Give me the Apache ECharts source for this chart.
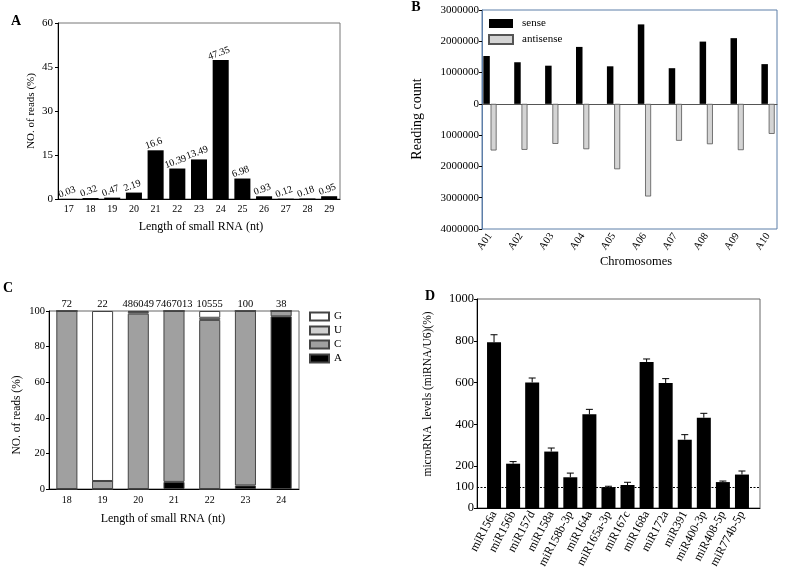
<!DOCTYPE html>
<html>
<head>
<meta charset="utf-8">
<script src="https://cdn.jsdelivr.net/npm/echarts@6/dist/echarts.min.js"></script>
<style>html,body{margin:0;padding:0;background:#fff;}#chart{width:786px;height:568px;}</style>
</head>
<body>
<div id="chart"></div>
<script>
// ---- Panel A ----
const lenA = ['17','18','19','20','21','22','23','24','25','26','27','28','29'];
const pctA = [0.03,0.32,0.47,2.19,16.6,10.39,13.49,47.35,6.98,0.93,0.12,0.18,0.95];
const ticksA = [0,15,30,45,60];
// ---- Panel B ----
const chrB = ['A01','A02','A03','A04','A05','A06','A07','A08','A09','A10'];
const senseB = [1530000,1330000,1220000,1820000,1200000,2540000,1140000,1990000,2100000,1270000];
const antisenseB = [1490000,1470000,1280000,1450000,2090000,2960000,1180000,1290000,1480000,960000];
// ---- Panel C ----
const lenC = ['18','19','20','21','22','23','24'];
const countsC = ['72','22','486049','7467013','10555','100','38'];
const baseA_C = [0,0,0,4,0,2,97];
const baseC_C = [100,4.5,98.5,96,95,98,3];
const baseU_C = [0,0,1,0,1.2,0,0];
const baseG_C = [0,95.5,0.5,0,3.8,0,0];
// ---- Panel D ----
const mirD = ['miR156a','miR156b','miR157d','miR158a','miR158b-3p','miR164a','miR165a-3p','miR167c','miR168a','miR172a','miR391','miR400-3p','miR408-5p','miR774b-5p'];
const levelD = [793,212,601,270,147,448,100,110,699,598,327,432,124,160];
const errD = [36,10,21,17,20,24,4,13,14,21,24,21,5,17];
const refD = 100;

const FF = 'Liberation Serif';
const chart = echarts.init(document.getElementById('chart'), null, {renderer:'canvas'});

function txt(x, y, text, size, opts) {
  opts = opts || {};
  return {type:'text', x:x, y:y, rotation: opts.rot || 0, silent:true,
    style:{text:text, font:(opts.bold?'bold ':'') + size + 'px "Liberation Serif"', fill:'#000',
      align: opts.align || 'center', verticalAlign: opts.va || 'middle',
      textAlign: opts.align || 'center', textVerticalAlign: opts.va || 'middle'}};
}

const axisLbl = (size) => ({fontFamily:FF, fontSize:size, color:'#000'});
const G = (o) => Object.assign({outerBoundsMode:'none', containLabel:false}, o);

const option = {
  animation:false,
  backgroundColor:'#fff',
  textStyle:{fontFamily:FF},
  grid:[
    G({left:58, top:23, width:282, height:176, show:true, borderColor:'#777', borderWidth:1}),
    G({left:482, top:10, width:295, height:219, show:true, borderColor:'#5d7ea8', borderWidth:1}),
    G({left:474.5, top:10, width:309, height:219}),
    G({left:49, top:311, width:250, height:178, show:true, borderColor:'#666', borderWidth:1}),
    G({left:477, top:299, width:283, height:209, show:true, borderColor:'#666', borderWidth:1}),
    G({left:484.5, top:299, width:267, height:209})
  ],
  legend:[
    {data:['sense','antisense'], orient:'vertical', left:488, top:18, padding:0, itemWidth:24, itemHeight:9, itemGap:5,
     selectedMode:false, icon:'rect', textStyle:{fontFamily:FF, fontSize:11, color:'#000', padding:[0,0,0,4]}},
    {data:['G','U','C','A'], orient:'vertical', left:309, top:311, padding:0, itemWidth:19, itemHeight:8, itemGap:3,
     selectedMode:false, icon:'rect', textStyle:{fontFamily:FF, fontSize:11, color:'#000'}}
  ],
  xAxis:[
    {gridIndex:0, type:'category', data:lenA, axisLine:{lineStyle:{color:'#000'}}, axisTick:{show:false},
     axisLabel:Object.assign(axisLbl(10), {margin:5, interval:0})},
    {gridIndex:1, type:'value', min:0, max:1, axisLine:{show:true, onZero:true, lineStyle:{color:'#555'}},
     axisTick:{show:false}, axisLabel:{show:false}, splitLine:{show:false}},
    {gridIndex:2, type:'category', data:chrB, axisLine:{show:false, onZero:false}, axisTick:{show:false},
     axisLabel:Object.assign(axisLbl(10.5), {rotate:55, margin:5, interval:0})},
    {gridIndex:3, type:'category', data:lenC, axisLine:{lineStyle:{color:'#000'}}, axisTick:{show:false},
     axisLabel:Object.assign(axisLbl(10), {margin:6, interval:0})},
    {gridIndex:3, type:'category', data:countsC, position:'top', axisLine:{show:false}, axisTick:{show:false},
     axisLabel:Object.assign(axisLbl(10.5), {margin:1, interval:0})},
    {gridIndex:4, type:'value', min:0, max:1, axisLine:{show:true, onZero:false, lineStyle:{color:'#000'}},
     axisTick:{show:false}, axisLabel:{show:false}, splitLine:{show:false}},
    {gridIndex:5, type:'category', data:mirD, axisLine:{show:false, onZero:false}, axisTick:{show:false},
     axisLabel:Object.assign(axisLbl(12), {rotate:62, margin:4, interval:0})}
  ],
  yAxis:[
    {gridIndex:0, type:'value', min:0, max:60, interval:15, axisLine:{show:true, lineStyle:{color:'#000'}},
     axisTick:{show:true, length:3}, splitLine:{show:false}, axisLabel:Object.assign(axisLbl(11), {margin:5})},
    {gridIndex:1, type:'value', min:-4000000, max:3000000, interval:1000000,
     axisLine:{show:true, lineStyle:{color:'#5d7ea8'}}, axisTick:{show:true, length:3, lineStyle:{color:'#000'}},
     splitLine:{show:false}, axisLabel:Object.assign(axisLbl(11), {margin:3, formatter:v=>String(Math.abs(v))})},
    {gridIndex:2, type:'value', min:-4000000, max:3000000, interval:1000000, show:false},
    {gridIndex:3, type:'value', min:0, max:100, interval:20, axisLine:{show:true, lineStyle:{color:'#000'}},
     axisTick:{show:true, length:3}, splitLine:{show:false}, axisLabel:Object.assign(axisLbl(10.5), {margin:4})},
    {gridIndex:4, type:'value', min:0, max:1000, interval:200, axisLine:{show:true, lineStyle:{color:'#000'}},
     axisTick:{show:true, length:3}, splitLine:{show:false},
     axisLabel:Object.assign(axisLbl(12.5), {margin:3, formatter:v=>String(v)})},
    {gridIndex:5, type:'value', min:0, max:1000, interval:200, show:false}
  ],
  series:[
    {type:'bar', name:'lenA', xAxisIndex:0, yAxisIndex:0, data:pctA, barWidth:'74%',
     itemStyle:{color:'#000'},
     label:{show:true, position:'top', rotate:20, distance:2, fontFamily:FF, fontSize:10, color:'#000',
       formatter:p=>String(p.value), align:'center', verticalAlign:'bottom'}},
    {type:'bar', name:'sense', xAxisIndex:2, yAxisIndex:2, data:senseB, barWidth:6.5, barGap:'12%',
     itemStyle:{color:'#000'}},
    {type:'bar', name:'antisense', xAxisIndex:2, yAxisIndex:2, data:antisenseB.map(v=>-v), barWidth:6,
     itemStyle:{color:'#d4d4d4', borderColor:'#555', borderWidth:0.8}},
    {type:'bar', name:'A', stack:'c', xAxisIndex:3, yAxisIndex:3, data:baseA_C, barWidth:'59%',
     itemStyle:{color:'#000', borderColor:'#444', borderWidth:1}},
    {type:'bar', name:'C', stack:'c', xAxisIndex:3, yAxisIndex:3, data:baseC_C, barWidth:'59%',
     itemStyle:{color:'#a0a0a0', borderColor:'#444', borderWidth:1}},
    {type:'bar', name:'U', stack:'c', xAxisIndex:3, yAxisIndex:3, data:baseU_C, barWidth:'59%',
     itemStyle:{color:'#d0d0d0', borderColor:'#444', borderWidth:1}},
    {type:'bar', name:'G', stack:'c', xAxisIndex:3, yAxisIndex:3, data:baseG_C, barWidth:'59%',
     itemStyle:{color:'#fff', borderColor:'#444', borderWidth:1}},
    {type:'line', name:'refD', xAxisIndex:5, yAxisIndex:4, data:[], symbol:'none',
     markLine:{silent:true, symbol:'none', animation:false,
       lineStyle:{color:'#000', type:[2,1.5], width:1},
       label:{show:true, position:'start', distance:3, formatter:String(refD), fontFamily:FF, fontSize:12.5, color:'#000'},
       data:[{yAxis:refD}]}},
    {type:'bar', name:'levelD', xAxisIndex:6, yAxisIndex:5, data:levelD, barWidth:14,
     itemStyle:{color:'#000'}},
    {type:'custom', name:'errD', xAxisIndex:6, yAxisIndex:5, z:3,
     data:levelD.map((v,i)=>[i, v, errD[i]]),
     encode:{x:0, y:1},
     renderItem:function(params, api){
       const base = api.coord([api.value(0), api.value(1)]);
       const top = api.coord([api.value(0), api.value(1) + api.value(2)]);
       const hw = 3.5;
       return {type:'group', children:[
         {type:'line', shape:{x1:base[0], y1:base[1], x2:top[0], y2:top[1]}, style:{stroke:'#000', lineWidth:1}},
         {type:'line', shape:{x1:top[0]-hw, y1:top[1], x2:top[0]+hw, y2:top[1]}, style:{stroke:'#000', lineWidth:1}}
       ]};
     }}
  ],
  graphic:[
    txt(16, 21, 'A', 14, {bold:true}),
    txt(416, 7, 'B', 14, {bold:true}),
    txt(8, 288, 'C', 14, {bold:true}),
    txt(430, 296, 'D', 14, {bold:true}),
    txt(31, 111, 'NO. of reads (%)', 11, {rot:Math.PI/2}),
    txt(201, 227, 'Length of small RNA (nt)', 12),
    txt(417, 119, 'Reading count', 14, {rot:Math.PI/2}),
    txt(636, 262, 'Chromosomes', 12.5),
    txt(17, 415, 'NO. of reads (%)', 11.5, {rot:Math.PI/2}),
    txt(163, 519, 'Length of small RNA (nt)', 12),
    txt(428, 394, 'microRNA  levels (miRNA/U6)(%)', 11.5, {rot:Math.PI/2})
  ]
};
chart.setOption(option);
</script>
</body>
</html>
